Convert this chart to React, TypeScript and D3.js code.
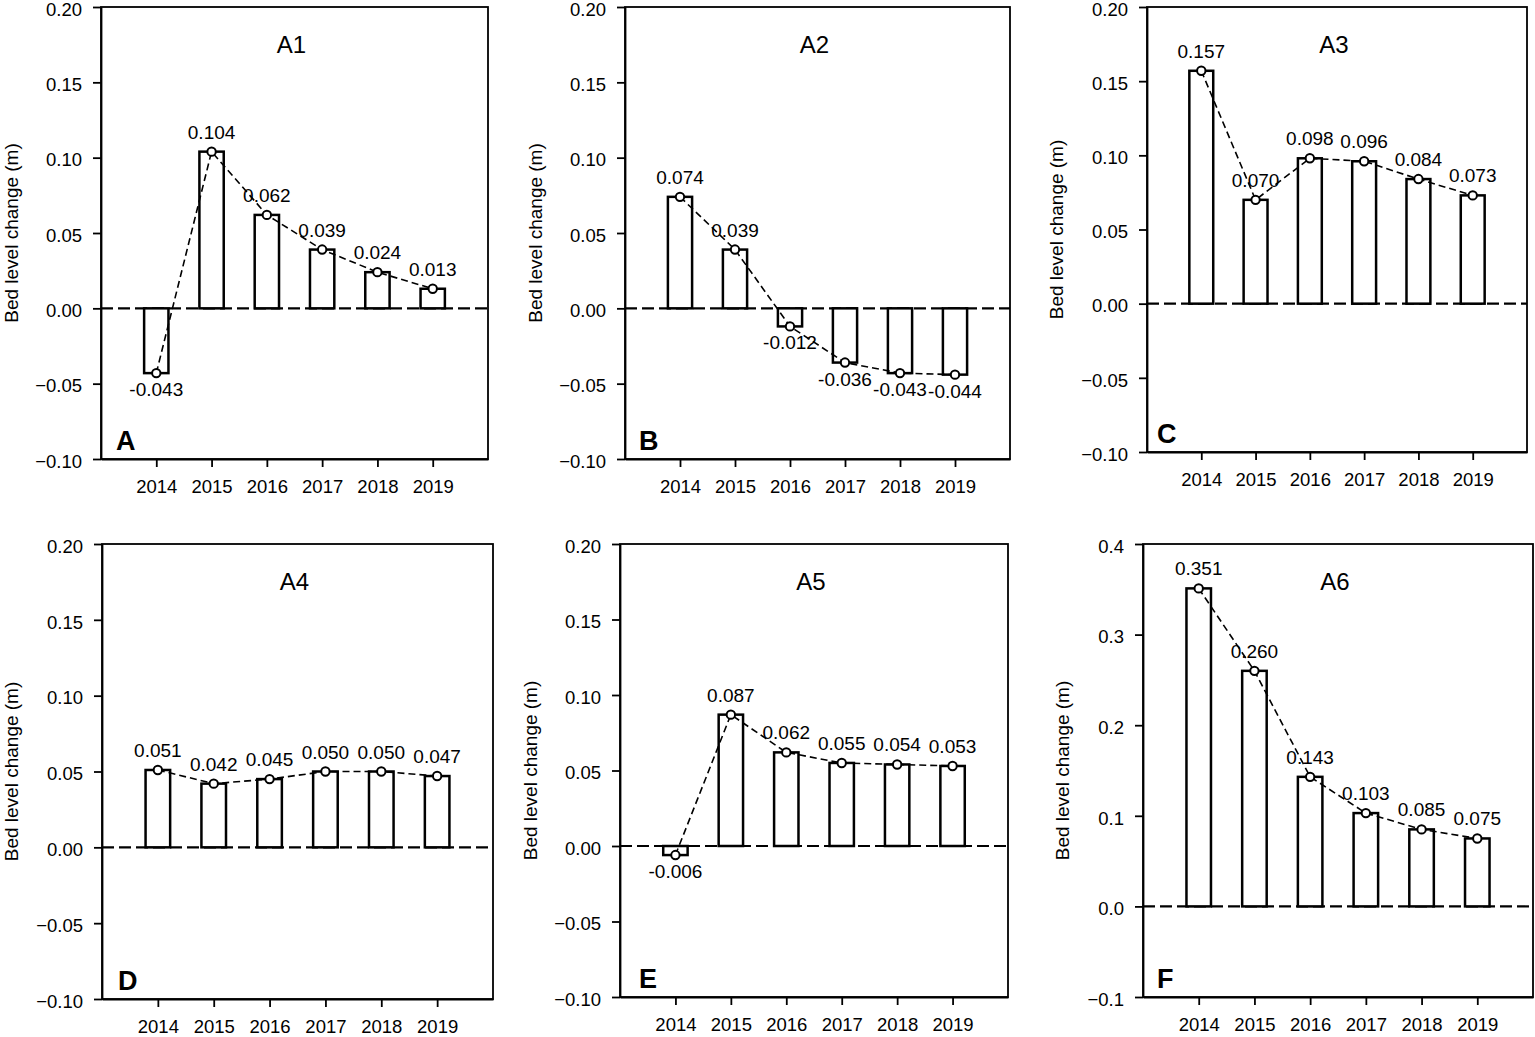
import React, { useEffect, useRef } from "react";
import * as d3 from "d3";

// ---- data ----
const years = ["2014", "2015", "2016", "2017", "2018", "2019"];
const seriesA1 = [-0.043, 0.104, 0.062, 0.039, 0.024, 0.013];
const seriesA2 = [0.074, 0.039, -0.012, -0.036, -0.043, -0.044];
const seriesA3 = [0.157, 0.07, 0.098, 0.096, 0.084, 0.073];
const seriesA4 = [0.051, 0.042, 0.045, 0.05, 0.05, 0.047];
const seriesA5 = [-0.006, 0.087, 0.062, 0.055, 0.054, 0.053];
const seriesA6 = [0.351, 0.26, 0.143, 0.103, 0.085, 0.075];
const titles = ["A1", "A2", "A3", "A4", "A5", "A6"];
const letters = ["A", "B", "C", "D", "E", "F"];
const yTicksSmall = [-0.1, -0.05, 0, 0.05, 0.1, 0.15, 0.2];
const yTicksLarge = [-0.1, 0, 0.1, 0.2, 0.3, 0.4];
const yLabel = "Bed level change (m)";

// ---- layout (pixel boxes of each axes frame) ----
const layout = [
  { l: 101, r: 488, t: 7, b: 459, yl: -90, lx: 16, big: false },
  { l: 625, r: 1010, t: 7, b: 459, yl: -90, lx: 15, big: false },
  { l: 1147, r: 1527, t: 7, b: 452, yl: -91, lx: 11, big: false },
  { l: 102, r: 493, t: 544, b: 999, yl: -91, lx: 17, big: false },
  { l: 620, r: 1008, t: 544, b: 997, yl: -90, lx: 20, big: false },
  { l: 1143, r: 1533, t: 544, b: 997, yl: -81, lx: 15, big: true },
];
const allSeries = [seriesA1, seriesA2, seriesA3, seriesA4, seriesA5, seriesA6];

const FONT = "'Liberation Sans', Arial, Helvetica, sans-serif";

export default function App() {
  const ref = useRef<SVGSVGElement | null>(null);

  useEffect(() => {
    document.body.style.margin = "0";
    const svg = d3.select(ref.current);
    svg.selectAll("*").remove();

    layout.forEach((p, k) => {
      const data = allSeries[k];
      const ticks = p.big ? yTicksLarge : yTicksSmall;
      const yDomain = p.big ? [-0.1, 0.4] : [-0.1, 0.2];
      const x = d3.scaleLinear().domain([-1, 6]).range([p.l, p.r]);
      const y = d3.scaleLinear().domain(yDomain).range([p.b, p.t]);
      const unit = x(1) - x(0);
      const bw = unit * 0.44;

      const g = svg.append("g");

      // frame (top/right)
      g.append("rect")
        .attr("x", p.l).attr("y", p.t)
        .attr("width", p.r - p.l).attr("height", p.b - p.t)
        .attr("fill", "none").attr("stroke", "#000").attr("stroke-width", 1.8);

      // zero line
      g.append("line")
        .attr("x1", p.l).attr("x2", p.r)
        .attr("y1", y(0)).attr("y2", y(0))
        .attr("stroke", "#000").attr("stroke-width", 2.2)
        .attr("stroke-dasharray", "12,5");

      // bars
      g.selectAll("rect.bar")
        .data(data)
        .join("rect")
        .attr("class", "bar")
        .attr("x", (_d, i) => x(i) - bw / 2)
        .attr("width", bw)
        .attr("y", (d) => y(Math.max(0, d)))
        .attr("height", (d) => Math.abs(y(d) - y(0)))
        .attr("fill", "#fff")
        .attr("stroke", "#000")
        .attr("stroke-width", 2.5);

      // value labels
      g.selectAll("text.val")
        .data(data)
        .join("text")
        .attr("class", "val")
        .attr("x", (_d, i) => x(i))
        .attr("y", (d) => (d >= 0 ? y(d) - 13 : y(d) + 23))
        .attr("text-anchor", "middle")
        .attr("font-family", FONT)
        .attr("font-size", 19)
        .attr("fill", "#000")
        .text((d) => (d < 0 ? "-" : "") + Math.abs(d).toFixed(3));

      // connecting dashed line
      const line = d3.line<number>().x((_d, i) => x(i)).y((d) => y(d));
      g.append("path")
        .attr("d", line(data) || "")
        .attr("fill", "none")
        .attr("stroke", "#000")
        .attr("stroke-width", 1.6)
        .attr("stroke-dasharray", "7,4");

      // markers
      g.selectAll("circle.pt")
        .data(data)
        .join("circle")
        .attr("class", "pt")
        .attr("cx", (_d, i) => x(i))
        .attr("cy", (d) => y(d))
        .attr("r", 4.2)
        .attr("fill", "#fff")
        .attr("stroke", "#000")
        .attr("stroke-width", 2);

      // y axis
      const fmt = p.big ? d3.format(".1f") : d3.format(".2f");
      const ya = g.append("g")
        .attr("transform", `translate(${p.l},0)`)
        .call(
          d3.axisLeft(y).tickValues(ticks).tickFormat((d) => fmt(d as number))
            .tickSize(8).tickSizeOuter(0).tickPadding(11)
        );
      ya.select(".domain").attr("stroke-width", 1.8);
      ya.selectAll(".tick line").attr("stroke-width", 1.8);
      ya.selectAll("text")
        .attr("font-family", FONT).attr("font-size", 18.5).attr("fill", "#000")
        .attr("dy", "0.45em");

      // x axis
      const xa = g.append("g")
        .attr("transform", `translate(0,${p.b})`)
        .call(
          d3.axisBottom(x).tickValues([0, 1, 2, 3, 4, 5]).tickFormat((d) => years[d as number])
            .tickSize(8).tickSizeOuter(0).tickPadding(13)
        );
      xa.select(".domain").attr("stroke-width", 1.8);
      xa.selectAll(".tick line").attr("stroke-width", 1.8);
      xa.selectAll("text").attr("font-family", FONT).attr("font-size", 18.5).attr("fill", "#000");

      // y label
      g.append("text")
        .attr("transform", `translate(${p.l + p.yl},${(p.t + p.b) / 2}) rotate(-90)`)
        .attr("text-anchor", "middle")
        .attr("dy", "0.35em")
        .attr("font-family", FONT)
        .attr("font-size", 19)
        .attr("fill", "#000")
        .text(yLabel);

      // title
      g.append("text")
        .attr("x", (p.l + p.r) / 2 - 3)
        .attr("y", p.t + 46)
        .attr("text-anchor", "middle")
        .attr("font-family", FONT)
        .attr("font-size", 24)
        .attr("fill", "#000")
        .text(titles[k]);

      // panel letter
      g.append("text")
        .attr("x", p.l + p.lx - 1)
        .attr("y", p.b - 9)
        .attr("font-family", FONT)
        .attr("font-size", 27)
        .attr("font-weight", "bold")
        .attr("fill", "#000")
        .text(letters[k]);
    });
  }, []);

  return (
    <svg
      ref={ref}
      width={1535}
      height={1037}
      style={{ position: "absolute", left: 0, top: 0, background: "#fff" }}
    />
  );
}
